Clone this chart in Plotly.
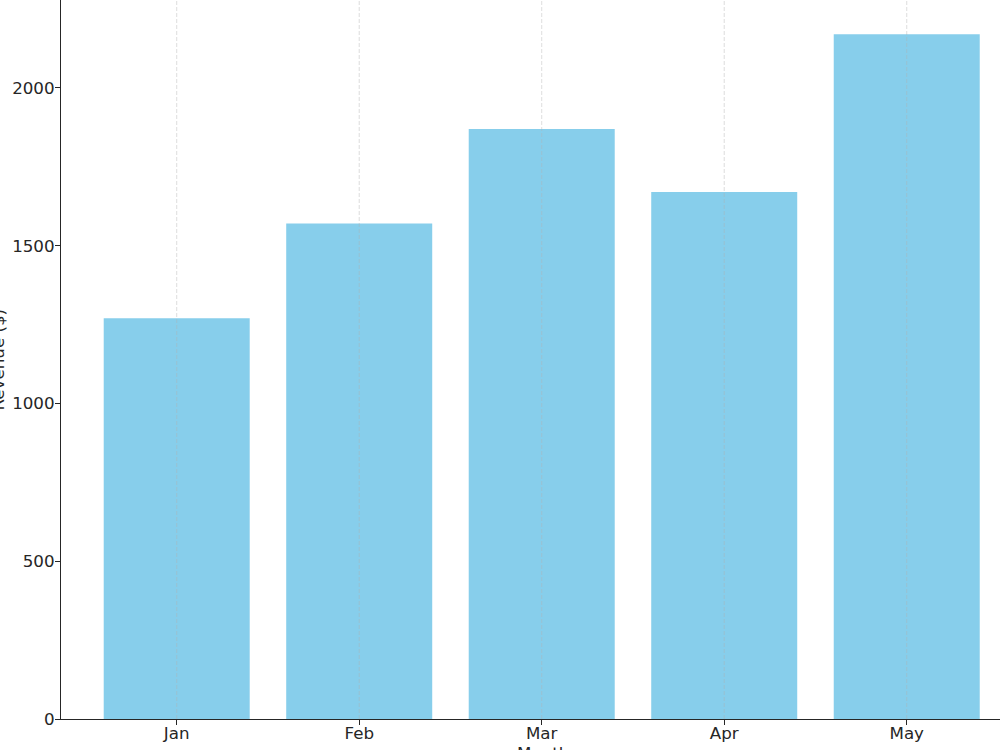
import plotly.graph_objects as go

months = ["Jan", "Feb", "Mar", "Apr", "May"]
revenue = [1270, 1570, 1870, 1670, 2170]
y_ticks = [0, 500, 1000, 1500, 2000]
x_title = "Month"
y_title = "Revenue ($)"

bar_color = "#87CEEB"
text_color = "#262626"
font_family = "DejaVu Sans"

fig = go.Figure()
fig.add_trace(go.Bar(x=months, y=revenue, marker=dict(color=bar_color, line=dict(width=0)), width=0.8))

# dashed vertical grid drawn above bars (as in reference)
for m in months:
    fig.add_shape(type="line", xref="x", yref="paper", x0=m, x1=m, y0=0, y1=1,
                  line=dict(color="rgba(176,176,176,0.55)", width=0.8, dash="4px,2px"), layer="above")

ymax = max(revenue) * 1.05
fig.update_layout(
    width=1000, height=750,
    margin=dict(l=61, r=0, t=0, b=31),
    paper_bgcolor="white", plot_bgcolor="white",
    showlegend=False,
    font=dict(family=font_family, size=16.7, color=text_color),
)
fig.update_xaxes(
    range=[-0.634, 4.511], showgrid=False, showline=True, linecolor=text_color, linewidth=1.1,
    ticks="outside", ticklen=5, tickwidth=1.1, tickcolor=text_color, ticklabelstandoff=-6,
    tickfont=dict(size=16.7, color=text_color), zeroline=False,
)
fig.update_yaxes(
    range=[0, ymax], tickvals=y_ticks, showgrid=False, showline=True, linecolor=text_color, linewidth=1.1,
    ticks="outside", ticklen=5, tickwidth=1.1, tickcolor=text_color, ticklabelstandoff=-3,
    tickfont=dict(size=16.7, color=text_color), zeroline=False,
)
fig.add_annotation(text=x_title, xref="paper", yref="paper", x=0.5138, y=0, yshift=-34,
                   showarrow=False, font=dict(size=16.7, color=text_color), yanchor="middle")
fig.add_annotation(text=y_title, xref="paper", yref="paper", x=0, xshift=-64, y=0.5, textangle=-90,
                   showarrow=False, font=dict(size=16.7, color=text_color), xanchor="center")

fig.write_html("out.html")
